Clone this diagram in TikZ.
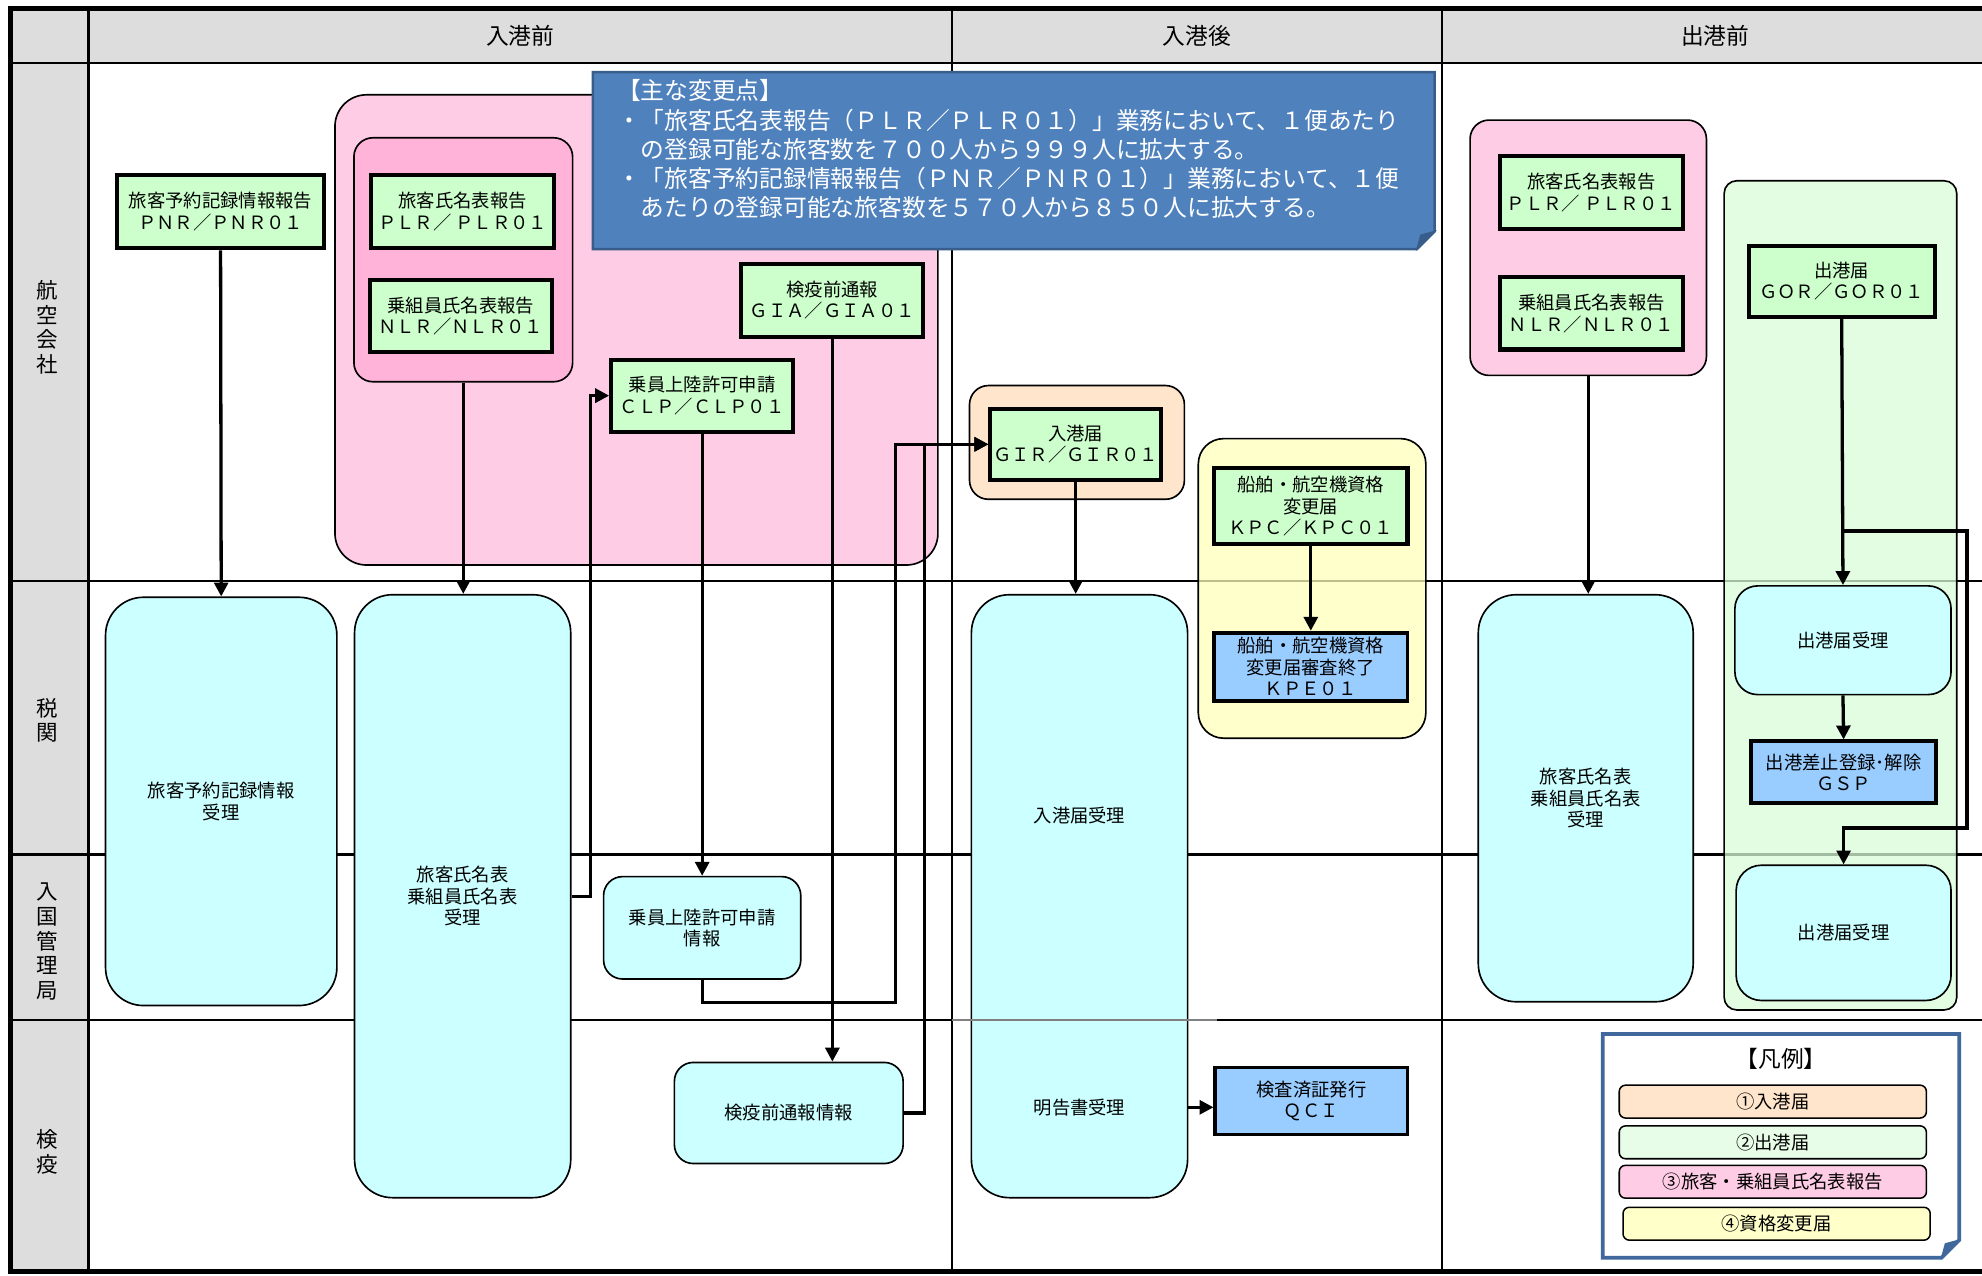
\documentclass[tikz,border=0pt]{standalone}
\usepackage{fontspec}
\setmainfont{Noto Sans CJK JP}
\usepackage{tikz}
\usetikzlibrary{arrows.meta}
\usetikzlibrary{positioning}

\definecolor{headgray}{HTML}{DDDDDD}
\definecolor{sendgreen}{HTML}{CCFFCC}
\definecolor{recvcyan}{HTML}{CCFFFF}
\definecolor{resblue}{HTML}{99CCFF}
\definecolor{plrpink}{HTML}{FFCCE6}
\definecolor{plrpinkdark}{HTML}{FFB3D9}
\definecolor{girpeach}{HTML}{FFE5CC}
\definecolor{gorgreen}{HTML}{D9FCD9}
\definecolor{kpcyellow}{HTML}{FFFFBB}
\definecolor{noteblue}{HTML}{4F81BD}
\definecolor{noteedge}{HTML}{385D8A}
\definecolor{legendedge}{HTML}{41689C}

\begin{document}
\begin{tikzpicture}[
            x=1pt, y=-1pt,
            every node/.style={font=\fontsize{14.5}{17}\selectfont, align=center},
            headtext/.style={font=\fontsize{18}{20}\selectfont},
            lanetext/.style={font=\fontsize{17}{19.5}\selectfont},
            sendbox/.style={rectangle, draw=black, fill=sendgreen, line width=3.2pt, inner sep=0pt},
            resultbox/.style={rectangle, draw=black, fill=resblue, line width=3pt, inner sep=0pt},
            recvbox/.style={rectangle, rounded corners=15pt, draw=black, fill=recvcyan, line width=1.3pt, inner sep=0pt},
            tallbox/.style={recvbox, rounded corners=30pt},
            groupbox/.style={rectangle, draw=black, line width=1.3pt, inner sep=0pt},
            legendbox/.style={rectangle, rounded corners=5pt, draw=black, line width=1.2pt, minimum width=243pt, minimum height=26pt, inner sep=0pt},
            flow/.style={-{Triangle[length=11pt,width=11pt]}, line width=2.6pt},
            gridline/.style={line width=1.6pt},
        ]
        \useasboundingbox (0,0) rectangle (1568,1009);

        % Lanes.
        \fill[headgray] (8,7) rectangle (1568,50);
        \fill[headgray] (8,50) rectangle (70,1006);
        \draw[gridline] (8,50) -- (1568,50);
        \draw[gridline] (8,460) -- (1568,460);
        \draw[gridline] (8,676) -- (1568,676);
        \draw[gridline] (8,807) -- (1568,807);
        \draw[line width=2pt] (70,7) -- (70,1006);
        \draw[gridline] (753,7) -- (753,1006);
        \draw[gridline] (1141,7) -- (1141,1006);
        \draw[line width=4pt] (6,7) -- (1568,7);
        \draw[line width=4pt] (6,1006) -- (1568,1006);
        \draw[line width=4pt] (8,5) -- (8,1008);

        \node[headtext] (head_arrival)   at (411.5,28) {入港前};
        \node[headtext] (head_stay)      at (947,28)   {入港後};
        \node[headtext] (head_departure) at (1357,28)  {出港前};

        \node[lanetext] (lane_airline)     at (37,259) {航\\空\\会\\社};
        \node[lanetext] (lane_customs)     at (37,570) {税\\関};
        \node[lanetext] (lane_immigration) at (37,745) {入\\国\\管\\理\\局};
        \node[lanetext] (lane_quarantine)  at (37,911) {検\\疫};

        % Groups.
        \node[groupbox, fill=plrpink, rounded corners=25pt, minimum width=477pt, minimum height=372pt] (plr_group) at (503.5,261) {};
        \node[groupbox, fill=plrpinkdark, rounded corners=15pt, minimum width=173pt, minimum height=193pt] (plr_inner) at (366.5,205.5) {};
        \node[groupbox, fill=plrpink, rounded corners=15pt, minimum width=187pt, minimum height=202pt] (plr_dep_group) at (1256.5,196) {};
        \node[groupbox, fill=girpeach, rounded corners=15pt, minimum width=170pt, minimum height=90pt] (gir_group) at (852,350) {};
        \node[groupbox, fill=kpcyellow, fill opacity=0.75, rounded corners=20pt, minimum width=180pt, minimum height=237pt] (kpc_group) at (1038,465.5) {};
        \node[groupbox, fill=gorgreen, fill opacity=0.75, rounded corners=10pt, minimum width=184pt, minimum height=656pt] (gor_group) at (1456,471) {};

        % Nodes.
        \node[sendbox, minimum width=164pt, minimum height=58pt] (pnr)     at (174.5,167.5) {旅客予約記録情報報告\\ＰＮＲ／ＰＮＲ０１};
        \node[sendbox, minimum width=145pt, minimum height=58pt] (plr_arr) at (366,167.5)   {旅客氏名表報告\\ＰＬＲ／ ＰＬＲ０１};
        \node[sendbox, minimum width=144pt, minimum height=57pt] (nlr_arr) at (364.5,250)   {乗組員氏名表報告\\ＮＬＲ／ＮＬＲ０１};
        \node[sendbox, minimum width=144pt, minimum height=58pt] (gia)     at (658.5,237.5) {検疫前通報\\ＧＩＡ／ＧＩＡ０１};
        \node[sendbox, minimum width=144pt, minimum height=57pt] (clp)     at (555.5,313)   {乗員上陸許可申請\\ＣＬＰ／ＣＬＰ０１};
        \node[sendbox, minimum width=135pt, minimum height=56pt] (gir)     at (851,351.5)   {入港届\\ＧＩＲ／ＧＩＲ０１};
        \node[sendbox, minimum width=153pt, minimum height=60pt] (kpc)     at (1037,400.5)  {船舶・航空機資格\\変更届\\ＫＰＣ／ＫＰＣ０１};
        \node[sendbox, minimum width=145pt, minimum height=58pt] (plr_dep) at (1259,152.5)  {旅客氏名表報告\\ＰＬＲ／ ＰＬＲ０１};
        \node[sendbox, minimum width=145pt, minimum height=57pt] (nlr_dep) at (1259,248)    {乗組員氏名表報告\\ＮＬＲ／ＮＬＲ０１};
        \node[sendbox, minimum width=147pt, minimum height=56pt] (gor)     at (1457,222.5)  {出港届\\ＧＯＲ／ＧＯＲ０１};

        \node[resultbox, minimum width=153pt, minimum height=54pt] (kpe) at (1037,527.5) {船舶・航空機資格\\変更届審査終了\\ＫＰＥ０１};
        \node[resultbox, minimum width=146pt, minimum height=49pt] (gsp) at (1458.5,611) {出港差止登録･解除\\ＧＳＰ};
        \node[resultbox, minimum width=152pt, minimum height=53pt] (qci) at (1037.5,871) {検査済証発行\\ＱＣＩ};

        \node[tallbox, minimum width=183pt, minimum height=323pt] (pnr_recv)     at (175,634)      {旅客予約記録情報\\受理};
        \node[tallbox, minimum width=171pt, minimum height=477pt] (plr_recv)     at (366,709)      {旅客氏名表\\乗組員氏名表\\受理};
        \node[recvbox, minimum width=156pt, minimum height=81pt]  (clp_recv)     at (555.5,734)    {乗員上陸許可申請\\情報};
        \node[recvbox, minimum width=181pt, minimum height=80pt]  (gia_recv)     at (624,880.5)    {検疫前通報情報};
        \node[tallbox, minimum width=171pt, minimum height=477pt] (gir_recv)     at (854,709)      {};
        \node (arr_recv) at (854,645) {入港届受理};
        \node (decl_recv) at (854,876) {明告書受理};
        \node[tallbox, minimum width=170pt, minimum height=322pt] (plr_dep_recv) at (1254.5,631.5) {旅客氏名表\\乗組員氏名表\\受理};
        \node[recvbox, rounded corners=18pt, minimum width=171pt, minimum height=86pt]  (gor_recv)     at (1458,506.5) {出港届受理};
        \node[recvbox, rounded corners=20pt, minimum width=170pt, minimum height=107pt] (gor_imm_recv) at (1458.5,738) {出港届受理};

        \draw[line width=2pt, gray] (753,807) -- (963,807);

        \coordinate (gor_branch) at (1556,420);
        \coordinate (gor_turn)   at (1556,655);

        % Lines.
        \draw[flow] (pnr.south) -- (pnr_recv.north);
        \draw[flow] (plr_inner.south) -- (plr_inner.south |- plr_recv.north);
        \draw[flow] (plr_recv.east) -- ++(15,0) |- (clp.west);
        \draw[flow] (clp.south) -- (clp_recv.north);
        \draw[flow] (clp_recv.south) -- ++(0,18) -- ++(153,0) |- (gir.west);
        \draw[flow] (gia.south) -- (gia.south |- gia_recv.north);
        \draw[flow] (gia_recv.east) -- ++(16,0) |- (gir.west);
        \draw[flow] (gir.south) -- (gir.south |- gir_recv.north);
        \draw[flow] (kpc.south) -- (kpe.north);
        \draw[flow] (decl_recv -| gir_recv.east) -- (decl_recv -| qci.west);
        \draw[flow] (plr_dep_group.south) -- (plr_dep_group.south |- plr_dep_recv.north);
        \draw[flow] (gor.south) -- (gor_recv.north);
        \draw[flow] (gor.south |- gor_branch) -- (gor_branch) -- (gor_turn) -| (gor_imm_recv.north);
        \draw[flow] (gor_recv.south) -- (gsp.north);

        % Note.
        \filldraw[fill=noteblue, draw=noteedge, line width=2pt] (469,57) -- (1135,57) -- (1135,183) -- (1121,197) -- (469,197) -- cycle;
        \filldraw[fill=noteedge, draw=noteedge, line width=1pt] (1135,183) -- (1121,197) -- (1124,186) -- cycle;
        \node[anchor=north west, align=left, inner sep=0pt, text=white, font=\fontsize{18.8}{23}\selectfont] (note_text) at (488,63)
            {【主な変更点】\\・「旅客氏名表報告（ＰＬＲ／ＰＬＲ０１）」業務において、１便あたり\\　の登録可能な旅客数を７００人から９９９人に拡大する。\\・「旅客予約記録情報報告（ＰＮＲ／ＰＮＲ０１）」業務において、１便\\　あたりの登録可能な旅客数を５７０人から８５０人に拡大する。};

        % Legend.
        \filldraw[fill=white, draw=legendedge, line width=3pt] (1268,818) -- (1550,818) -- (1550,981) -- (1536,995) -- (1268,995) -- cycle;
        \filldraw[fill=legendedge, draw=legendedge, line width=1pt] (1550,981) -- (1536,995) -- (1539,984) -- cycle;
        \node[font=\fontsize{18}{20}\selectfont] (legend_title) at (1409,838) {【凡例】};
        \node[legendbox, fill=girpeach] (legend_gir) at (1402.5,871.5) {①入港届};
        \node[legendbox, fill=gorgreen!60!white, below=5pt of legend_gir] (legend_gor) {②出港届};
        \node[legendbox, fill=plrpink, below=4pt of legend_gor] (legend_plr) {③旅客・乗組員氏名表報告};
        \node[legendbox, fill=kpcyellow!80!white, below=6pt of legend_plr, xshift=3pt] (legend_kpc) {④資格変更届};
    \end{tikzpicture}
\end{document}
